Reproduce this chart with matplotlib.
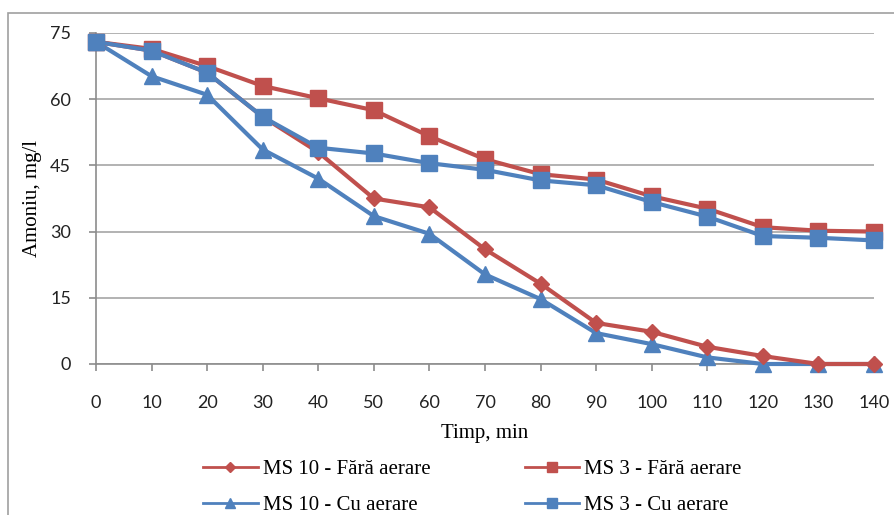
import matplotlib.pyplot as plt
from matplotlib.patches import Rectangle

# Données
timp = [0, 10, 20, 30, 40, 50, 60, 70, 80, 90, 100, 110, 120, 130, 140]
ms10_fara = [73, 71, 66, 56, 48, 37.5, 35.5, 26, 18.2, 9.3, 7.3, 3.9, 1.8, 0, 0]
ms10_cu = [73, 65.2, 61, 48.6, 42, 33.5, 29.5, 20.3, 14.7, 7, 4.5, 1.5, 0, 0, 0]
ms3_fara = [73, 71.4, 67.5, 63, 60.2, 57.5, 51.6, 46.4, 43, 41.8, 38, 35.2, 31, 30.2, 30]
ms3_cu = [73, 71, 66, 56, 49, 47.7, 45.5, 44, 41.6, 40.5, 36.7, 33.4, 29, 28.6, 28]
yticks = [0, 15, 30, 45, 60, 75]

ROUGE = "#C0504D"
BLEU = "#4F81BD"
GRIS = "#8C8C8C"

fig = plt.figure(figsize=(8.94, 5.15), dpi=100)
ax = fig.add_axes([96 / 894, 151 / 515, 778 / 894, 331 / 515])

# cadre extérieur du graphique
fig.patches.append(Rectangle((8 / 894, -0.1), 1.2, (502 / 515) + 0.1, transform=fig.transFigure,
                             fill=False, edgecolor="#A0A0A0", linewidth=1.2))

l1, = ax.plot(timp, ms10_fara, color=ROUGE, lw=3, marker="D", ms=8, clip_on=False, zorder=4)
l3, = ax.plot(timp, ms10_cu, color=BLEU, lw=3, marker="^", ms=11, clip_on=False, zorder=3)
l2, = ax.plot(timp, ms3_fara, color=ROUGE, lw=3, marker="s", ms=11, clip_on=False, zorder=3)
l4, = ax.plot(timp, ms3_cu, color=BLEU, lw=3, marker="s", ms=11, clip_on=False, zorder=4)

ax.set_xlim(0, 140)
ax.set_ylim(0, 75)
ax.set_xticks(timp)
ax.set_yticks(yticks)
ax.yaxis.grid(True, color="#A6A6A6", lw=1.2)
ax.set_axisbelow(True)
for s in ["top", "right"]:
    ax.spines[s].set_visible(False)
for s in ["left", "bottom"]:
    ax.spines[s].set_color(GRIS)
    ax.spines[s].set_linewidth(1.2)
ax.tick_params(axis="both", colors=GRIS, length=5, width=1.2, labelcolor="#222222",
               labelsize=13)
ax.tick_params(axis="x", pad=17)
ax.tick_params(axis="y", pad=13)
for lab in ax.get_xticklabels() + ax.get_yticklabels():
    lab.set_family("Lato")

ax.set_ylabel("Amoniu, mg/l", family="Liberation Serif", fontsize=15, labelpad=6)
ax.set_xlabel("Timp, min", family="Liberation Serif", fontsize=15, labelpad=10)

# petites icônes de légende
h1, = ax.plot([], [], color=ROUGE, lw=2, marker="D", ms=5)
h3, = ax.plot([], [], color=BLEU, lw=2, marker="^", ms=7)
h2, = ax.plot([], [], color=ROUGE, lw=2, marker="s", ms=7)
h4, = ax.plot([], [], color=BLEU, lw=2, marker="s", ms=7)
fig.legend([h1, h3, h2, h4],
           ["MS 10 - Fără aerare", "MS 10 - Cu aerare", "MS 3 - Fără aerare", "MS 3 - Cu aerare"],
           ncol=2, loc="upper left", bbox_to_anchor=(195 / 894, 1 - 451 / 515),
           frameon=False, handlelength=2.6, handletextpad=0.25, columnspacing=4.55,
           labelspacing=0.8, borderaxespad=0, prop={"family": "Liberation Serif", "size": 15})

fig.savefig("out.png", dpi=100)
